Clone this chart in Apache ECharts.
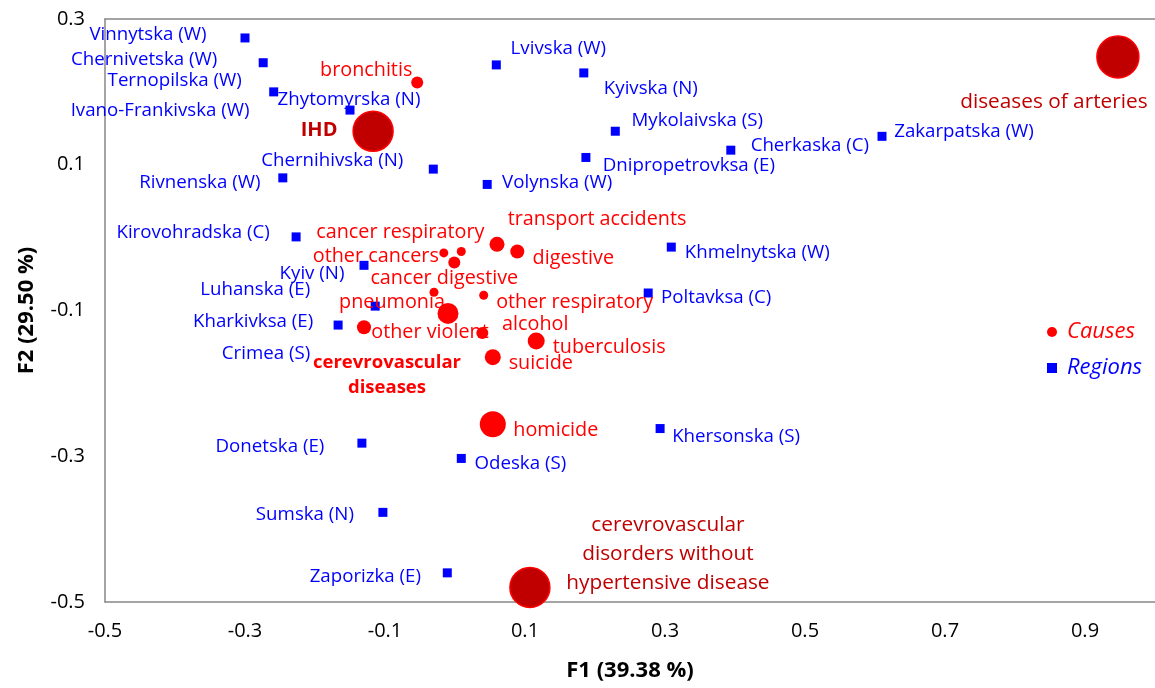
<!DOCTYPE html>
<html><head><meta charset="utf-8">
<script src="https://cdn.jsdelivr.net/npm/echarts@6/dist/echarts.min.js"></script>
<style>html,body{margin:0;padding:0;background:#fff}#c{width:1155px;height:688px}</style>
</head><body><div id="c"></div>
<script>
// ---- data ----
const xTicks = [-0.5, -0.3, -0.1, 0.1, 0.3, 0.5, 0.7, 0.9];
const yTicks = [-0.5, -0.3, -0.1, 0.1, 0.3];

const regionNames = ['Vinnytska (W)','Chernivetska (W)','Ternopilska (W)','Ivano-Frankivska (W)','Zhytomyrska (N)',
  'Chernihivska (N)','Rivnenska (W)','Lvivska (W)','Kyivska (N)','Mykolaivska (S)','Dnipropetrovksa (E)','Volynska (W)',
  'Cherkaska (C)','Zakarpatska (W)','Kirovohradska (C)','Kyiv (N)','Luhanska (E)','Kharkivksa (E)','Crimea (S)',
  'Khmelnytska (W)','Poltavksa (C)','Donetska (E)','Odeska (S)','Khersonska (S)','Sumska (N)','Zaporizka (E)'];
const regionF1 = [-0.300,-0.274,-0.259,-0.117,-0.150,-0.031,-0.246,0.059,0.184,0.229,0.187,0.046,
  0.394,0.610,-0.227,-0.130,-0.114,-0.167,-0.130,0.309,0.276,-0.133,0.009,0.293,-0.103,-0.011];
const regionF2 = [0.274,0.240,0.200,0.146,0.175,0.094,0.082,0.237,0.226,0.146,0.110,0.073,
  0.120,0.139,0.001,-0.038,-0.094,-0.120,-0.123,-0.013,-0.076,-0.282,-0.303,-0.262,-0.377,-0.460];

const causeNames = ['bronchitis','IHD','diseases of arteries','transport accidents','digestive','cancer respiratory',
  'other cancers','cancer digestive','other respiratory','pneumonia','other violent','alcohol','tuberculosis','suicide',
  'cerevrovascular\ndiseases','homicide','cerevrovascular\ndisorders without\nhypertensive disease'];
const causeF1 = [-0.054,-0.117,0.947,0.060,0.089,0.009,-0.016,-0.001,0.041,-0.010,-0.130,0.039,0.116,0.054,-0.030,0.054,0.107];
const causeF2 = [0.213,0.146,0.248,-0.009,-0.019,-0.019,-0.021,-0.034,-0.079,-0.104,-0.123,-0.131,-0.142,-0.164,-0.075,-0.256,-0.480];

// ---- styling / layout (not data) ----
const causeMarkerSizes = [12,40,42,15,14,9,9,12,9,21,14,12,17,16,9,26,40];
const darkCauses = ['IHD','diseases of arteries','cerevrovascular\ndisorders without\nhypertensive disease'];
const boldCauses = ['IHD','cerevrovascular\ndiseases'];
const regionLabelOffsets = [[-97,-3],[-119,-3],[-99,-11],[-213,-21],[-1,-10],[-101,-8],[-83,5],[62,-16],[67,16],
  [82,-11],[103,8],[70,-2],[79,-4],[82,-5],[-103,-4],[-52,8],[-120,-16],[-85,-3],[-98,26],[86,6],[68,5],[-92,4],
  [59,5],[76,8],[-78,2],[-82,4]];
const causeLabelOffsets = [[-51,-12],[-54,-1],[-64,45],[100,-25],[56,7],[-61,-19],[-68,3],[-10,16],[91,7],[-56,-11],
  [66,5],[53,-9],[73,6],[48,6],[-47,83],[63,6],[138,-33]];

const FONT = 'Open Sans';
const RED = '#FF0000', DARK = '#C00000', BLUE = '#0000FF', AXIS = '#878787';

const regionData = regionNames.map((n, i) => ({
  name: n, value: [regionF1[i], regionF2[i]],
  label: { offset: regionLabelOffsets[i] }
}));
const causeData = causeNames.map((n, i) => {
  const dark = darkCauses.includes(n);
  const bold = boldCauses.includes(n);
  let fs = dark ? 20.8 : 19.8;
  if (n === 'IHD') fs = 20;
  if (n === 'cerevrovascular\ndiseases') fs = 18.5;
  return {
    name: n, value: [causeF1[i], causeF2[i]],
    symbolSize: causeMarkerSizes[i],
    itemStyle: dark ? { color: DARK, borderColor: RED, borderWidth: 1.5, opacity: 1 } : { color: RED, opacity: 1 },
    label: {
      offset: causeLabelOffsets[i],
      color: dark ? DARK : RED,
      fontWeight: bold ? 'bold' : 'normal',
      fontSize: fs,
      lineHeight: n.startsWith('cerevrovascular\ndisorders') ? 29 : 25
    }
  };
});

const chart = echarts.init(document.getElementById('c'), null, { renderer: 'canvas' });
const fmt = v => (Math.abs(v) < 1e-9 ? '0' : (+v).toFixed(1));
chart.setOption({
  animation: false,
  backgroundColor: '#fff',
  textStyle: { fontFamily: FONT },
  grid: { left: 105, right: 0, top: 19, bottom: 86, containLabel: false, outerBoundsMode: 'none' },
  legend: {
    orient: 'vertical', left: 1042, top: 315, itemWidth: 10, itemHeight: 10, itemGap: 12,
    textStyle: { fontFamily: FONT, fontSize: 22, fontStyle: 'italic', lineHeight: 24, padding: [0, 0, 0, 5] },
    data: [
      { name: 'Causes', icon: 'circle', textStyle: { color: RED } },
      { name: 'Regions', icon: 'rect', textStyle: { color: BLUE } }
    ]
  },
  xAxis: [{
    type: 'value', min: -0.5, max: 1.0, position: 'bottom',
    name: 'F1 (39.38 %)', nameLocation: 'middle', nameGap: 58,
    nameTextStyle: { fontFamily: FONT, fontSize: 22, fontWeight: 'bold', color: '#000' },
    axisLine: { show: true, onZero: false, lineStyle: { color: AXIS, width: 1.5 } },
    axisTick: { show: false },
    splitLine: { show: false },
    axisLabel: { customValues: xTicks, formatter: fmt, fontFamily: FONT, fontSize: 20, color: '#000', margin: 19 }
  }, {
    type: 'value', min: -0.5, max: 1.0, position: 'top',
    axisLine: { show: true, onZero: false, lineStyle: { color: AXIS, width: 1.5 } },
    axisTick: { show: false }, axisLabel: { show: false }, splitLine: { show: false }
  }],
  yAxis: {
    type: 'value', min: -0.5, max: 0.3,
    name: 'F2 (29.50 %)', nameLocation: 'middle', nameGap: 67,
    nameTextStyle: { fontFamily: FONT, fontSize: 22, fontWeight: 'bold', color: '#000' },
    axisLine: { show: true, onZero: false, lineStyle: { color: AXIS, width: 1.5 } },
    axisTick: { show: false },
    splitLine: { show: false },
    axisLabel: { customValues: yTicks, formatter: fmt, fontFamily: FONT, fontSize: 20, color: '#000', margin: 20 }
  },
  series: [{
    name: 'Regions', type: 'scatter', symbol: 'rect', symbolSize: 9,
    itemStyle: { color: BLUE, opacity: 1 },
    label: { show: true, position: 'inside', formatter: '{b}', color: BLUE, fontFamily: FONT, fontSize: 18.7 },
    data: regionData, z: 2
  }, {
    name: 'Causes', type: 'scatter', symbol: 'circle',
    itemStyle: { color: RED, opacity: 1 },
    label: { show: true, position: 'inside', formatter: '{b}', color: RED, fontFamily: FONT, fontSize: 19.8, align: 'center' },
    data: causeData, z: 3
  }]
});
</script></body></html>
